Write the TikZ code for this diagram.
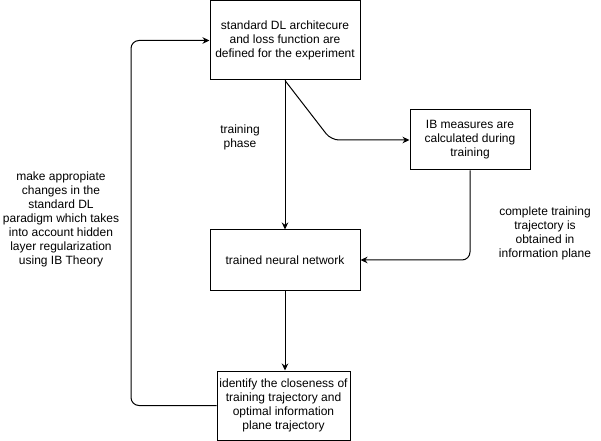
\documentclass[tikz,border=0pt]{standalone}
\usepackage{fontspec}
\setmainfont{Liberation Sans}
\usepackage{tikz}
\usetikzlibrary{arrows.meta,calc,positioning}

\newcommand{\diagfont}{\fontsize{12bp}{14bp}\selectfont}

\begin{document}
\begin{tikzpicture}[
 x=1bp,y=-1bp,
 block/.style={draw=black,line width=1bp,inner sep=2pt,
   align=center,font=\diagfont},
 remark/.style={align=center,font=\diagfont,inner sep=0pt},
 flow/.style={-{Stealth[length=7bp,width=6.5bp]},draw=black,line width=1bp},
 loopback/.style={flow,rounded corners=8bp}
]
\path[use as bounding box,fill=white] (0,0) rectangle (601,441);

\node[block,minimum width=150bp,minimum height=79bp] (design) at (285,40.5)
 {standard DL architecure\\and loss function are\\defined for the experiment};
\node[block,minimum width=120bp,minimum height=60bp] (measures) at (470,140)
 {IB measures are\\calculated during\\training};
\node[block,minimum width=150bp,minimum height=60bp] (trained) at (285,260)
 {trained neural network};
\node[block,minimum width=133bp,minimum height=69bp] (compare) at (283.5,405.5)
 {identify the closeness of\\training trajectory and\\optimal information\\plane trajectory};

\node[remark] (phase) at (240,137) {training\\phase};
\node[remark] (changes) at (61,219)
 {make appropiate\\changes in the\\standard DL\\paradigm which takes\\into account hidden\\layer regularization\\using IB Theory};
\node[remark] (obtained) at (545,233)
 {complete training\\trajectory is\\obtained in\\information plane};

\coordinate (bend) at (331,140);
\coordinate (loop) at (131,405.5);

\draw[flow] (design.south) -- (trained.north);
\draw[loopback] (design.south) -- (bend) -- (measures.west);
\draw[loopback] (measures.south) |- (trained.east);
\draw[flow] (trained.south) -- (trained.south |- compare.north);
\draw[loopback] (compare.west) -- (loop) |- (design.west);
\end{tikzpicture}
\end{document}
